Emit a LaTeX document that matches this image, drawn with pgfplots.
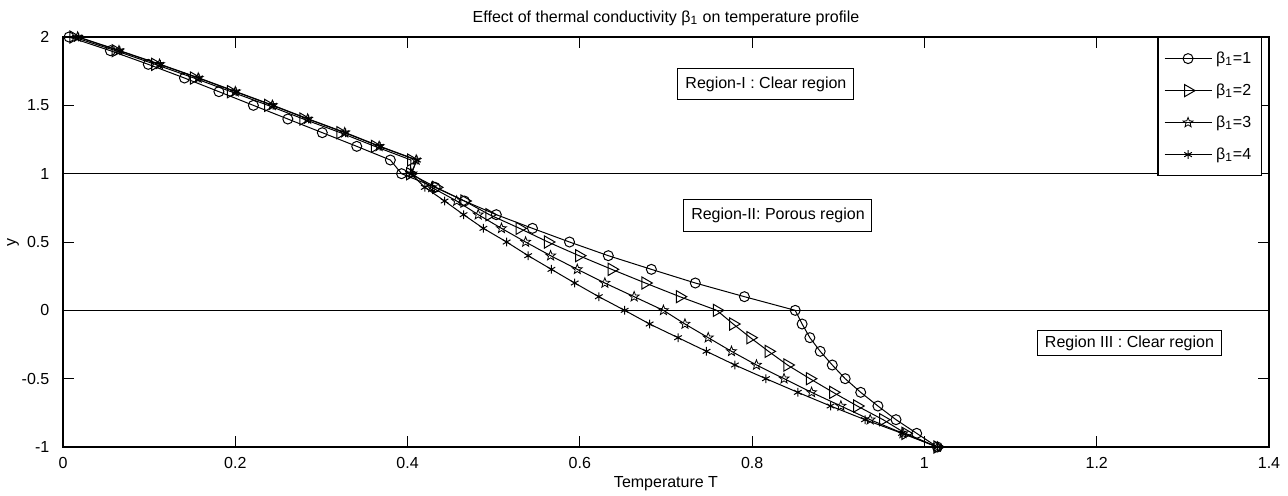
\documentclass[border=0pt]{standalone}
\usepackage{fontspec}
\setmainfont{Liberation Sans}
\usepackage{pgfplots}
\usepackage{pgfplotstable}
\pgfplotsset{compat=1.18}

% open five-pointed star (MATLAB 'p')
\pgfdeclareplotmark{pentagram}{%
  \pgfpathmoveto{\pgfpointpolar{90}{\pgfplotmarksize}}%
  \pgfpathlineto{\pgfpointpolar{126}{0.42*\pgfplotmarksize}}%
  \pgfpathlineto{\pgfpointpolar{162}{\pgfplotmarksize}}%
  \pgfpathlineto{\pgfpointpolar{198}{0.42*\pgfplotmarksize}}%
  \pgfpathlineto{\pgfpointpolar{234}{\pgfplotmarksize}}%
  \pgfpathlineto{\pgfpointpolar{270}{0.42*\pgfplotmarksize}}%
  \pgfpathlineto{\pgfpointpolar{306}{\pgfplotmarksize}}%
  \pgfpathlineto{\pgfpointpolar{342}{0.42*\pgfplotmarksize}}%
  \pgfpathlineto{\pgfpointpolar{18}{\pgfplotmarksize}}%
  \pgfpathlineto{\pgfpointpolar{54}{0.42*\pgfplotmarksize}}%
  \pgfpathclose
  \pgfusepathqstroke
}

% temperature T for beta_1 = 1..4 at each y
\pgfplotstableread{
y    b1    b2    b3    b4
2.0  0.007 0.012 0.017 0.018
1.9  0.055 0.061 0.065 0.066
1.8  0.099 0.107 0.112 0.113
1.7  0.141 0.152 0.157 0.158
1.6  0.181 0.195 0.200 0.201
1.5  0.221 0.238 0.243 0.244
1.4  0.261 0.279 0.284 0.285
1.3  0.301 0.322 0.327 0.328
1.2  0.341 0.362 0.367 0.368
1.1  0.380 0.404 0.410 0.411
1.0  0.393 0.403 0.405 0.404
0.9  0.432 0.433 0.428 0.420
0.8  0.466 0.466 0.457 0.443
0.7  0.503 0.495 0.482 0.465
0.6  0.545 0.530 0.509 0.488
0.5  0.588 0.563 0.537 0.515
0.4  0.633 0.599 0.566 0.540
0.3  0.683 0.637 0.597 0.567
0.2  0.734 0.676 0.629 0.594
0.1  0.791 0.716 0.663 0.622
0.0  0.850 0.759 0.697 0.652
-0.1 0.858 0.778 0.722 0.681
-0.2 0.867 0.798 0.749 0.714
-0.3 0.879 0.819 0.776 0.747
-0.4 0.893 0.841 0.805 0.780
-0.5 0.908 0.867 0.837 0.816
-0.6 0.926 0.894 0.869 0.853
-0.7 0.946 0.922 0.903 0.891
-0.8 0.967 0.952 0.937 0.931
-0.9 0.991 0.978 0.975 0.974
-1.0 1.015 1.015 1.015 1.015
}\tempdata

\begin{document}
\fontsize{8}{9.5}\selectfont
\begin{tikzpicture}
\useasboundingbox (0,0) rectangle (644pt,247.5pt);
\begin{axis}[
    at={(31.5pt,24pt)}, anchor=south west,
    scale only axis,
    width=603pt, height=205pt,
    xmin=0, xmax=1.4,
    ymin=-1, ymax=2,
    xtick={0,0.2,0.4,0.6,0.8,1,1.2,1.4},
    ytick={-1,-0.5,0,0.5,1,1.5,2},
    /pgf/number format/assume math mode=true,
    tick align=inside,
    major tick length=5.5pt,
    tick style={black, line width=0.4pt},
    axis line style={black, line width=0.7pt},
    xticklabel style={yshift=-2.5pt},
    yticklabel style={xshift=-4pt},
    title={Effect of thermal conductivity β\textsubscript{1} on temperature profile},
    every axis title/.style={at={(0.5,1)}, anchor=base, yshift=7.5pt},
    xlabel={Temperature T},
    every axis x label/.style={at={(0.5,0)}, anchor=base, yshift=-20pt},
    ylabel={y},
    every axis y label/.style={at={(0,0.5)}, xshift=-25pt, rotate=90, anchor=center},
    legend style={at={(0.994,1)}, anchor=north east, draw=black,
        line width=0.6pt, inner xsep=3pt, inner ysep=5pt, row sep=5pt,
        nodes={inner sep=2pt}},
    legend cell align=left,
    legend image code/.code={%
        \draw[mark repeat=2, mark phase=2, #1]
        plot coordinates {(0pt,0pt) (11.75pt,0pt) (23.5pt,0pt)};},
]
\addplot[black, line width=0.5pt, forget plot] coordinates {(0,1) (1.4,1)};
\addplot[black, line width=0.5pt, forget plot] coordinates {(0,0) (1.4,0)};

\addplot[black, line width=0.5pt, mark=o, mark size=2.5pt]
    table[x=b1, y=y] {\tempdata};
\addplot[black, line width=0.5pt, mark=triangle, mark size=3.5pt,
    mark options={rotate=-90}]
    table[x=b2, y=y] {\tempdata};
\addplot[black, line width=0.5pt, mark=pentagram, mark size=2.6pt,
    mark options={line width=0.4pt}]
    table[x=b3, y=y] {\tempdata};
\addplot[black, line width=0.5pt, mark=asterisk, mark size=2.2pt]
    table[x=b4, y=y] {\tempdata};
\legend{β\textsubscript{1}=1, β\textsubscript{1}=2, β\textsubscript{1}=3, β\textsubscript{1}=4}

\node[draw=black, line width=0.5pt, fill=white, minimum width=88pt, minimum height=15.5pt, inner sep=0pt]
    at (axis cs:0.816,1.655) {Region-I : Clear region};
\node[draw=black, line width=0.5pt, fill=white, minimum width=94pt, minimum height=16pt, inner sep=0pt]
    at (axis cs:0.830,0.697) {Region-II: Porous region};
\node[draw=black, line width=0.5pt, fill=white, minimum width=92pt, minimum height=12.5pt, inner sep=0pt]
    at (axis cs:1.238,-0.239) {Region III : Clear region};
\end{axis}
\end{tikzpicture}
\end{document}
